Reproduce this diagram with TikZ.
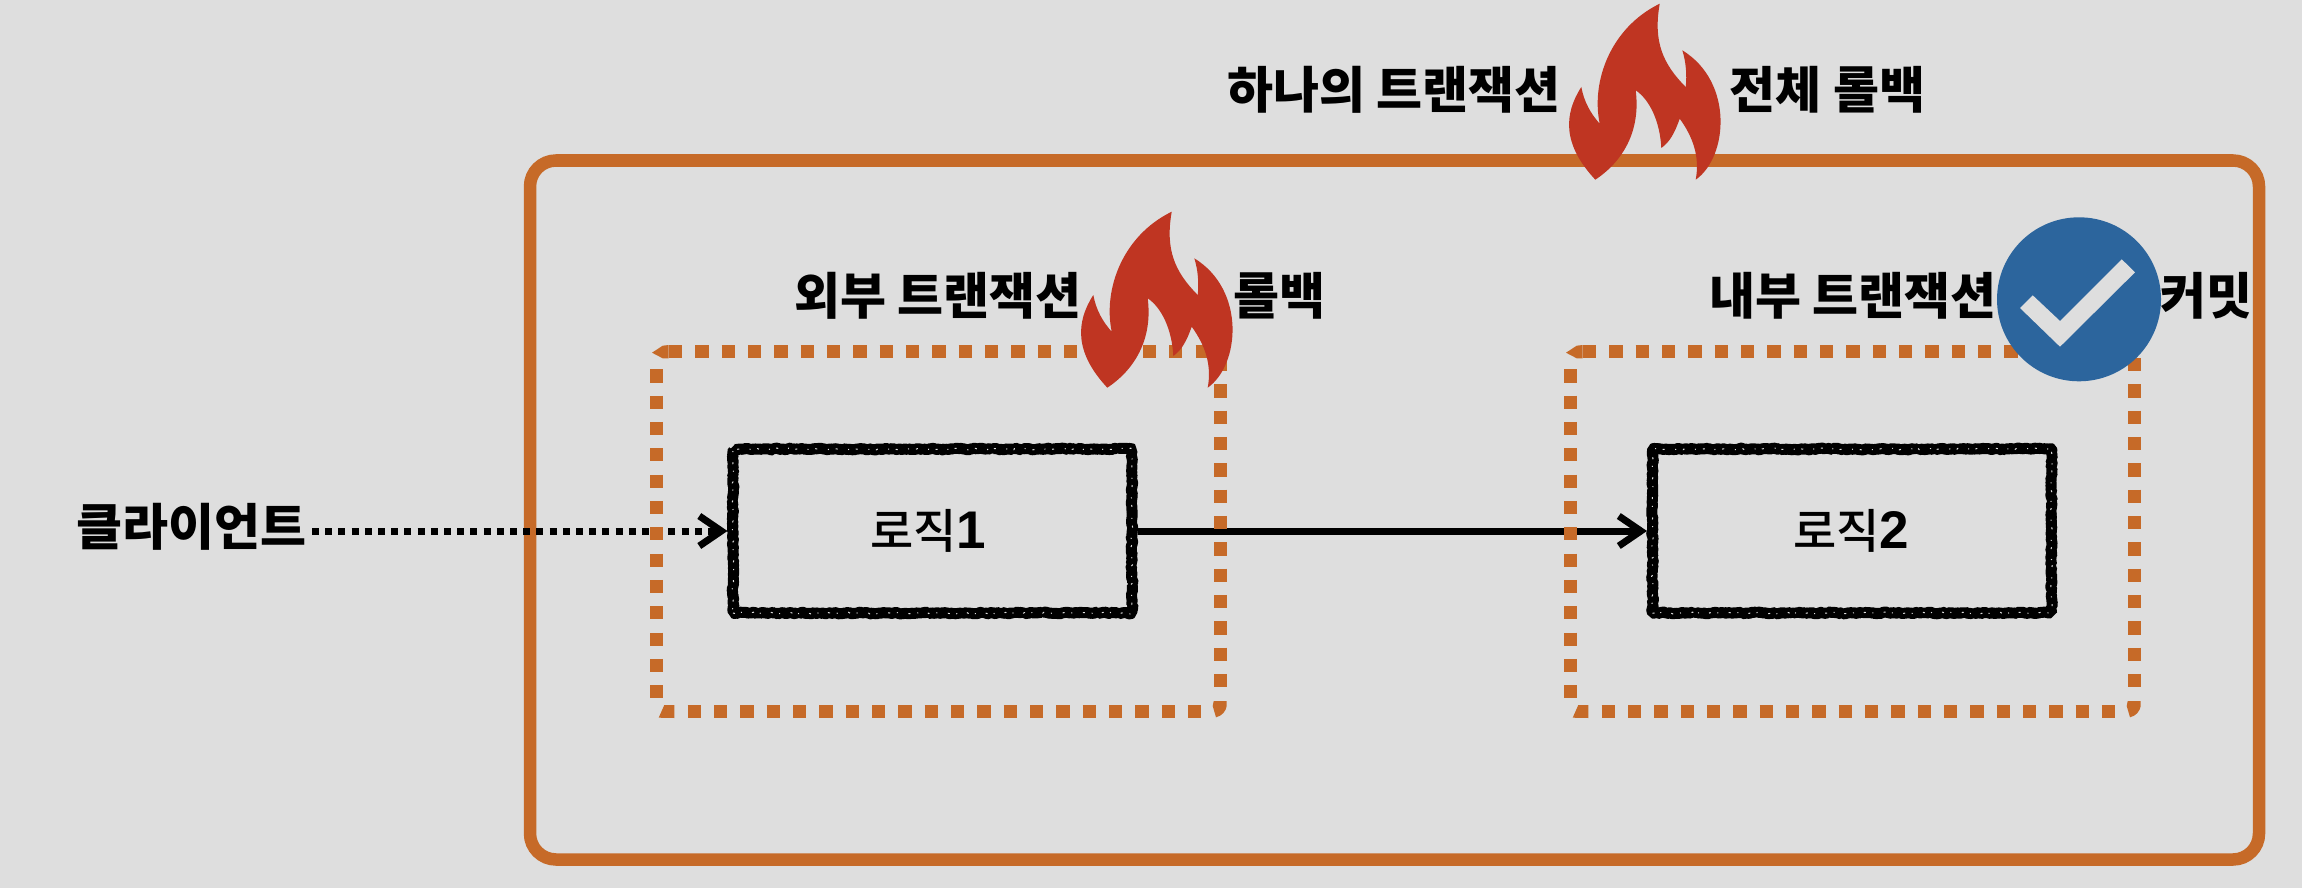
\documentclass[tikz,border=0pt]{standalone}
\usepackage{fontspec}
\setmainfont{Noto Sans CJK KR}
\newfontfamily\medfont{Noto Sans CJK KR Medium}
\newfontfamily\digitfont{Liberation Sans}
\usetikzlibrary{arrows.meta,decorations.pathmorphing}
\definecolor{bgc}{RGB}{222,222,222}
\definecolor{orangec}{RGB}{198,106,40}
\definecolor{bluec}{RGB}{44,101,157}
\definecolor{redc}{RGB}{191,53,34}
\newcommand{\logictext}[2]{{\fontsize{47}{55}\medfont #1}{\fontsize{53}{55}\digitfont\bfseries #2}}
\tikzset{
  x=1pt,y=-1pt,
  lab/.style={inner sep=0pt,font=\fontsize{50}{60}\selectfont\bfseries,text=black},
  boxlab/.style={inner sep=0pt,text=black},
  outerbox/.style={draw=orangec,line width=12.5pt,rounded corners=26pt,inner sep=0pt},
  dashline/.style={draw=orangec,line width=13pt,dash pattern=on 13.2pt off 13.13pt},
  logicbox/.style={draw=black,line width=11pt,line join=bevel,inner sep=0pt,decorate,
    decoration={random steps,segment length=1.8pt,amplitude=0.9pt},
    postaction={draw=bgc,line width=1pt,dash pattern=on 2pt off 7pt on 1pt off 11pt}},
  conn/.style={draw=black,line width=7pt,-{Straight Barb[length=22pt,width=30pt,line width=7pt]}},
  dotconn/.style={conn,dash pattern=on 7pt off 6.2pt},
  flamefill/.style={fill=redc,draw=none},
  pics/flame/.style={code={
    \path[flamefill] (1171.7,211.7) .. controls (1122,236) and (1103,290) .. (1111.7,331.7)
      .. controls (1103,322) and (1096,310) .. (1093.3,295)
      .. controls (1076,322) and (1074,352) .. (1107.3,387.7)
      .. controls (1134,370) and (1153,340) .. (1147.7,298.3)
      .. controls (1162,308) and (1172,330) .. (1173.3,356)
      .. controls (1182,350) and (1187,340) .. (1191.7,326.7)
      .. controls (1205,345) and (1212,365) .. (1207.7,387.7)
      .. controls (1240,365) and (1246,290) .. (1194.3,258.3)
      .. controls (1198,270) and (1199,283) .. (1197.7,295)
      .. controls (1175,272) and (1165,250) .. (1171.7,211.7) -- cycle;
  }},
  pics/dotframe/.style={code={
    \path[dashline] (1583,351.7) -- (2123,351.7);
    \path[dashline] (2134,358) -- (2134,688);
    \path[dashline] (1601.7,711.5) -- (2115,711.5);
    \path[dashline] (1570,369.3) -- (1570,699);
    \fill[orangec] (1566,352.7) -- (1576.7,345.7) -- (1582.7,345) -- (1582.7,358.3) -- (1576.7,358.3) -- cycle;
    \fill[orangec] (1572.7,717.7) -- (1578.3,705) -- (1588.3,705) -- (1588.3,718) -- cycle;
    \fill[orangec] (2127.7,701) -- (2140.7,701) -- (2140.7,706) .. controls (2140,711) and (2136,716) .. (2130,717.3) -- (2126.7,706) -- cycle;
  }}
}
\begin{document}
\begin{tikzpicture}
\pgfmathsetseed{42}
\useasboundingbox (0,0) rectangle (2302,888);
\fill[bgc] (0,0) rectangle (2302,888);
% outer transaction
\node[outerbox,minimum width=1729pt,minimum height=699pt] (outer) at (1394.5,510) {};
% logic boxes
\node[logicbox,minimum width=399pt,minimum height=164pt] (logicA) at (932.5,531) {};
\node[logicbox,minimum width=399pt,minimum height=164pt] (logicB) at (1852,531) {};
\node[boxlab] (logicAt) at (928,531) {\logictext{로직}{1}};
\node[boxlab] (logicBt) at (1851,531) {\logictext{로직}{2}};
% client
\node[lab] (client) at (191,527) {클라이언트};
\coordinate (cstart) at (312,531);
% connectors
\draw[dotconn] (cstart) -- (logicA.west);
\draw[conn] (logicA.east) -- (logicB.west);
% dotted boxes
\pic (innerB) at (0,0) {dotframe};
\pic (innerA) at (-914,0) {dotframe};
% flames
\pic (flameB) at (0,0) {flame};
\pic (flameA) at (488,-208) {flame};
% check
\node[circle,fill=bluec,minimum size=164pt,inner sep=0pt] (okc) at (2079,299.3) {};
\fill[bgc] (2020,308) -- (2032.7,295.3) -- (2060,321) -- (2121.7,259.3) -- (2135,272.3) -- (2060,346.7) -- cycle;
% labels
\node[lab] (ttop) at (1394,90) {하나의 트랜잭션};
\node[lab] (rtop) at (1827.5,90) {전체 롤백};
\node[lab] (outlab) at (938,296) {외부 트랜잭션};
\node[lab] (outrb) at (1279,296) {롤백};
\node[lab] (inlab) at (1853,296) {내부 트랜잭션};
\node[lab] (incm) at (2206,296) {커밋};
\end{tikzpicture}
\end{document}
